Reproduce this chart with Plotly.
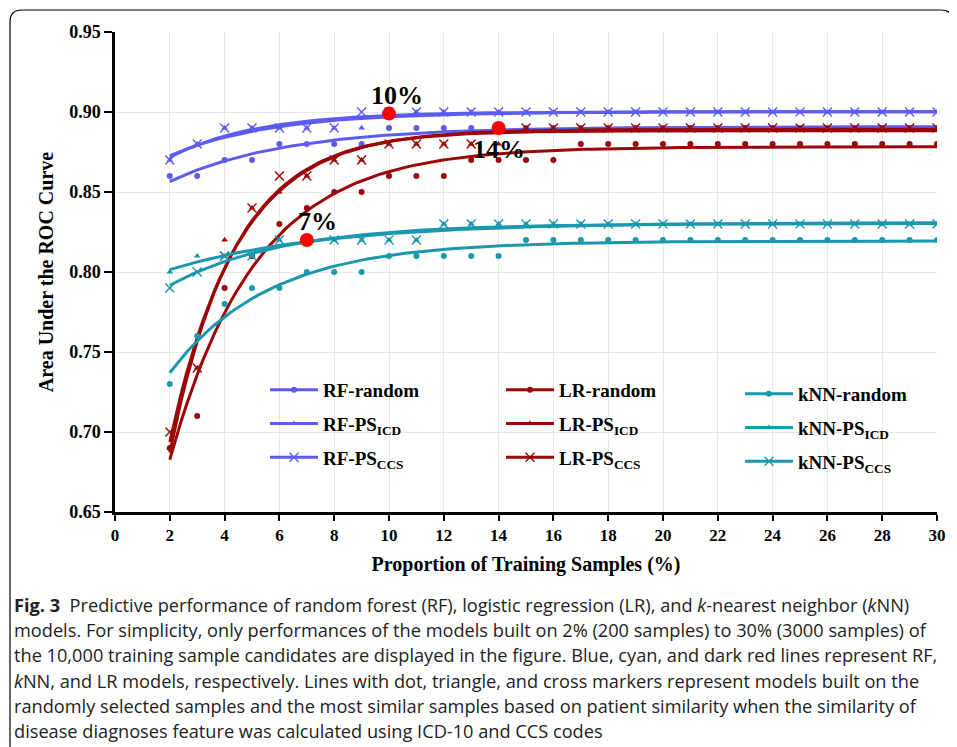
import numpy as np
import plotly.graph_objects as go

# ---------------- data ----------------
x_pct = [2, 3, 4, 5, 6, 7, 8, 9, 10, 11, 12, 13, 14, 15, 16, 17, 18, 19, 20,
         21, 22, 23, 24, 25, 26, 27, 28, 29, 30]

rf_random = [0.86, 0.86, 0.87, 0.87, 0.88, 0.88, 0.88, 0.88, 0.89, 0.89, 0.89,
             0.89, 0.89, 0.89, 0.89, 0.89, 0.89, 0.89, 0.89, 0.89, 0.89, 0.89,
             0.89, 0.89, 0.89, 0.89, 0.89, 0.89, 0.89]
rf_ps_icd = [0.87, 0.88, 0.89, 0.89, 0.89, 0.89, 0.89, 0.89, 0.90, 0.90, 0.90,
             0.90, 0.90, 0.90, 0.90, 0.90, 0.90, 0.90, 0.90, 0.90, 0.90, 0.90,
             0.90, 0.90, 0.90, 0.90, 0.90, 0.90, 0.90]
rf_ps_ccs = [0.87, 0.88, 0.89, 0.89, 0.89, 0.89, 0.89, 0.90, 0.90, 0.90, 0.90,
             0.90, 0.90, 0.90, 0.90, 0.90, 0.90, 0.90, 0.90, 0.90, 0.90, 0.90,
             0.90, 0.90, 0.90, 0.90, 0.90, 0.90, 0.90]

lr_random = [0.69, 0.71, 0.79, 0.81, 0.83, 0.84, 0.85, 0.85, 0.86, 0.86, 0.86,
             0.87, 0.87, 0.87, 0.87, 0.88, 0.88, 0.88, 0.88, 0.88, 0.88, 0.88,
             0.88, 0.88, 0.88, 0.88, 0.88, 0.88, 0.88]
lr_ps_icd = [0.69, 0.74, 0.82, 0.84, 0.85, 0.86, 0.87, 0.87, 0.88, 0.88, 0.88,
             0.88, 0.88, 0.89, 0.89, 0.89, 0.89, 0.89, 0.89, 0.89, 0.89, 0.89,
             0.89, 0.89, 0.89, 0.89, 0.89, 0.89, 0.89]
lr_ps_ccs = [0.70, 0.74, 0.81, 0.84, 0.86, 0.86, 0.87, 0.87, 0.88, 0.88, 0.88,
             0.88, 0.89, 0.89, 0.89, 0.89, 0.89, 0.89, 0.89, 0.89, 0.89, 0.89,
             0.89, 0.89, 0.89, 0.89, 0.89, 0.89, 0.89]

knn_random = [0.73, 0.76, 0.78, 0.79, 0.79, 0.80, 0.80, 0.80, 0.81, 0.81, 0.81,
              0.81, 0.81, 0.82, 0.82, 0.82, 0.82, 0.82, 0.82, 0.82, 0.82, 0.82,
              0.82, 0.82, 0.82, 0.82, 0.82, 0.82, 0.82]
knn_ps_icd = [0.80, 0.81, 0.81, 0.81, 0.82, 0.82, 0.82, 0.82, 0.82, 0.82, 0.83,
              0.83, 0.83, 0.83, 0.83, 0.83, 0.83, 0.83, 0.83, 0.83, 0.83, 0.83,
              0.83, 0.83, 0.83, 0.83, 0.83, 0.83, 0.83]
knn_ps_ccs = [0.79, 0.80, 0.81, 0.81, 0.82, 0.82, 0.82, 0.82, 0.82, 0.82, 0.83,
              0.83, 0.83, 0.83, 0.83, 0.83, 0.83, 0.83, 0.83, 0.83, 0.83, 0.83,
              0.83, 0.83, 0.83, 0.83, 0.83, 0.83, 0.83]

highlight_x = [10, 14, 7]
highlight_y = [0.899, 0.890, 0.820]
highlight_labels = ["10%", "14%", "7%"]

x_ticks = [0, 2, 4, 6, 8, 10, 12, 14, 16, 18, 20, 22, 24, 26, 28, 30]
y_ticks = [0.65, 0.70, 0.75, 0.80, 0.85, 0.90, 0.95]

caption_lines = [
    "<b>Fig. 3</b>  Predictive performance of random forest (RF), logistic regression (LR), and <i>k</i>-nearest neighbor (<i>k</i>NN)",
    "models. For simplicity, only performances of the models built on 2% (200 samples) to 30% (3000 samples) of",
    "the 10,000 training sample candidates are displayed in the figure. Blue, cyan, and dark red lines represent RF,",
    "<i>k</i>NN, and LR models, respectively. Lines with dot, triangle, and cross markers represent models built on the",
    "randomly selected samples and the most similar samples based on patient similarity when the similarity of",
    "disease diagnoses feature was calculated using ICD-10 and CCS codes",
]

# ---------------- styling ----------------
BLUE = "#5c5cf2"
RED = "#9c0606"
CYAN = "#1a98ae"
SERIF = "Liberation Serif, Times New Roman, serif"
SANS = "Open Sans, Noto Sans, sans-serif"

series = [
    ("RF-random", rf_random, BLUE, "circle", "legend"),
    ("RF-PS<sub>ICD</sub>", rf_ps_icd, BLUE, "triangle-up", "legend"),
    ("RF-PS<sub>CCS</sub>", rf_ps_ccs, BLUE, "x-thin-open", "legend"),
    ("LR-random", lr_random, RED, "circle", "legend2"),
    ("LR-PS<sub>ICD</sub>", lr_ps_icd, RED, "triangle-up", "legend2"),
    ("LR-PS<sub>CCS</sub>", lr_ps_ccs, RED, "x-thin-open", "legend2"),
    ("kNN-random", knn_random, CYAN, "circle", "legend3"),
    ("kNN-PS<sub>ICD</sub>", knn_ps_icd, CYAN, "triangle-up", "legend3"),
    ("kNN-PS<sub>CCS</sub>", knn_ps_ccs, CYAN, "x-thin-open", "legend3"),
]


def fit_saturating(x, y):
    """Least-squares fit of y = a - b*exp(-c*x) (grid over c)."""
    x = np.asarray(x, float)
    y = np.asarray(y, float)
    best = None
    for c in np.linspace(0.02, 1.5, 400):
        A = np.column_stack([np.ones_like(x), -np.exp(-c * x)])
        coef, *_ = np.linalg.lstsq(A, y, rcond=None)
        err = np.sum((A @ coef - y) ** 2)
        if best is None or err < best[0]:
            best = (err, coef, c)
    _, (a, b), c = best
    return lambda t: a - b * np.exp(-c * t)


fig = go.Figure()
xf = np.linspace(min(x_pct), max(x_pct), 140)

for name, vals, color, sym, leg in series:
    f = fit_saturating(x_pct, vals)
    fig.add_trace(go.Scatter(
        x=xf, y=f(xf), mode="lines", line=dict(color=color, width=3),
        legendgroup=name, showlegend=False, hoverinfo="skip", legend=leg))
    # isolated points (None-separated) so only the legend shows a line sample
    xs, ys = [], []
    for a, b in zip(x_pct, vals):
        xs += [a, None]
        ys += [b, None]
    is_x = sym.startswith("x")
    fig.add_trace(go.Scatter(
        x=xs, y=ys, mode="lines+markers", name=name, legendgroup=name,
        legend=leg, connectgaps=False,
        line=dict(color=color, width=3),
        marker=dict(symbol=sym, size=9 if is_x else 6, color=color,
                    line=dict(color=color, width=1.4 if is_x else 0))))

fig.add_trace(go.Scatter(
    x=highlight_x, y=highlight_y, mode="markers", showlegend=False,
    marker=dict(color="#ff0000", size=14), hoverinfo="skip"))

label_pos = [(10.3, 0.9105), (14.0, 0.8765), (7.4, 0.8315)]
for (lx, ly), t in zip(label_pos, highlight_labels):
    fig.add_annotation(x=lx, y=ly, text=t, showarrow=False,
                       font=dict(family=SERIF, size=26, color="black", weight="bold"))

# ---------------- layout ----------------
# the page body adds an 8px margin; the figure is sized to fill the rest
OFF = 8
W, H = 957 - OFF, 747 - OFF
L, T = 115 - OFF, 32 - OFF
R = W - (937 - OFF)
B = H - (512 - OFF)
pw, ph = W - L - R, H - T - B


def px(xp):  # reference-image pixel x -> paper x
    return (xp - OFF - L) / pw


def py(yp):  # reference-image pixel y -> paper y
    return (H - B - (yp - OFF)) / ph


leg_common = dict(font=dict(family=SERIF, size=19, color="black", weight="bold"),
                  bgcolor="rgba(0,0,0,0)", itemwidth=48, tracegroupgap=6,
                  traceorder="grouped", yanchor="middle", xanchor="left")
fig.update_layout(
    width=W, height=H, paper_bgcolor="white", plot_bgcolor="white",
    margin=dict(l=L, r=R, t=T, b=B, autoexpand=False),
    showlegend=True,
    legend=dict(x=px(265), y=py(424), **leg_common),
    legend2=dict(x=px(501), y=py(424), **leg_common),
    legend3=dict(x=px(740), y=py(428), **leg_common),
    xaxis=dict(range=[0, 30], tickvals=x_ticks, ticks="outside", ticklen=6,
               tickwidth=2, tickcolor="black", showline=True, linewidth=2.5,
               linecolor="black", showgrid=True, gridcolor="#e8e8e8",
               gridwidth=1, zeroline=False,
               tickfont=dict(family=SERIF, size=17, color="black", weight="bold"),
               title=dict(text="Proportion of Training Samples (%)", standoff=13,
                          font=dict(family=SERIF, size=20, color="black", weight="bold"))),
    yaxis=dict(range=[0.65, 0.95], tickvals=y_ticks, tickformat=".2f",
               ticks="outside", ticklen=8, tickwidth=2, tickcolor="black",
               showline=True, linewidth=2.5, linecolor="black", showgrid=True,
               gridcolor="#e8e8e8", gridwidth=1, zeroline=False,
               tickfont=dict(family=SERIF, size=18, color="black", weight="bold"),
               title=dict(text="Area Under the ROC Curve", standoff=11,
                          font=dict(family=SERIF, size=20, color="black", weight="bold"))),
)

# caption
cap_y = [605, 630.2, 655.4, 680.6, 705.8, 731]
for t, yy in zip(caption_lines, cap_y):
    fig.add_annotation(xref="paper", yref="paper", x=px(12), y=py(yy),
                       xanchor="left", yanchor="middle", text=t, showarrow=False,
                       font=dict(family=SANS, size=18.2, color="#222222"))

# rounded frame
x0, x1, y0, y1, r = px(10), px(953), py(10), py(800), 12
rx, ry = r / pw, r / ph
path = (f"M {x0+rx},{y0} L {x1-rx},{y0} Q {x1},{y0} {x1},{y0-ry} "
        f"L {x1},{y1} L {x0},{y1} L {x0},{y0-ry} Q {x0},{y0} {x0+rx},{y0} Z")
fig.add_shape(type="path", path=path, xref="paper", yref="paper",
              line=dict(color="black", width=1.2), layer="below")

fig.write_html("out.html")
